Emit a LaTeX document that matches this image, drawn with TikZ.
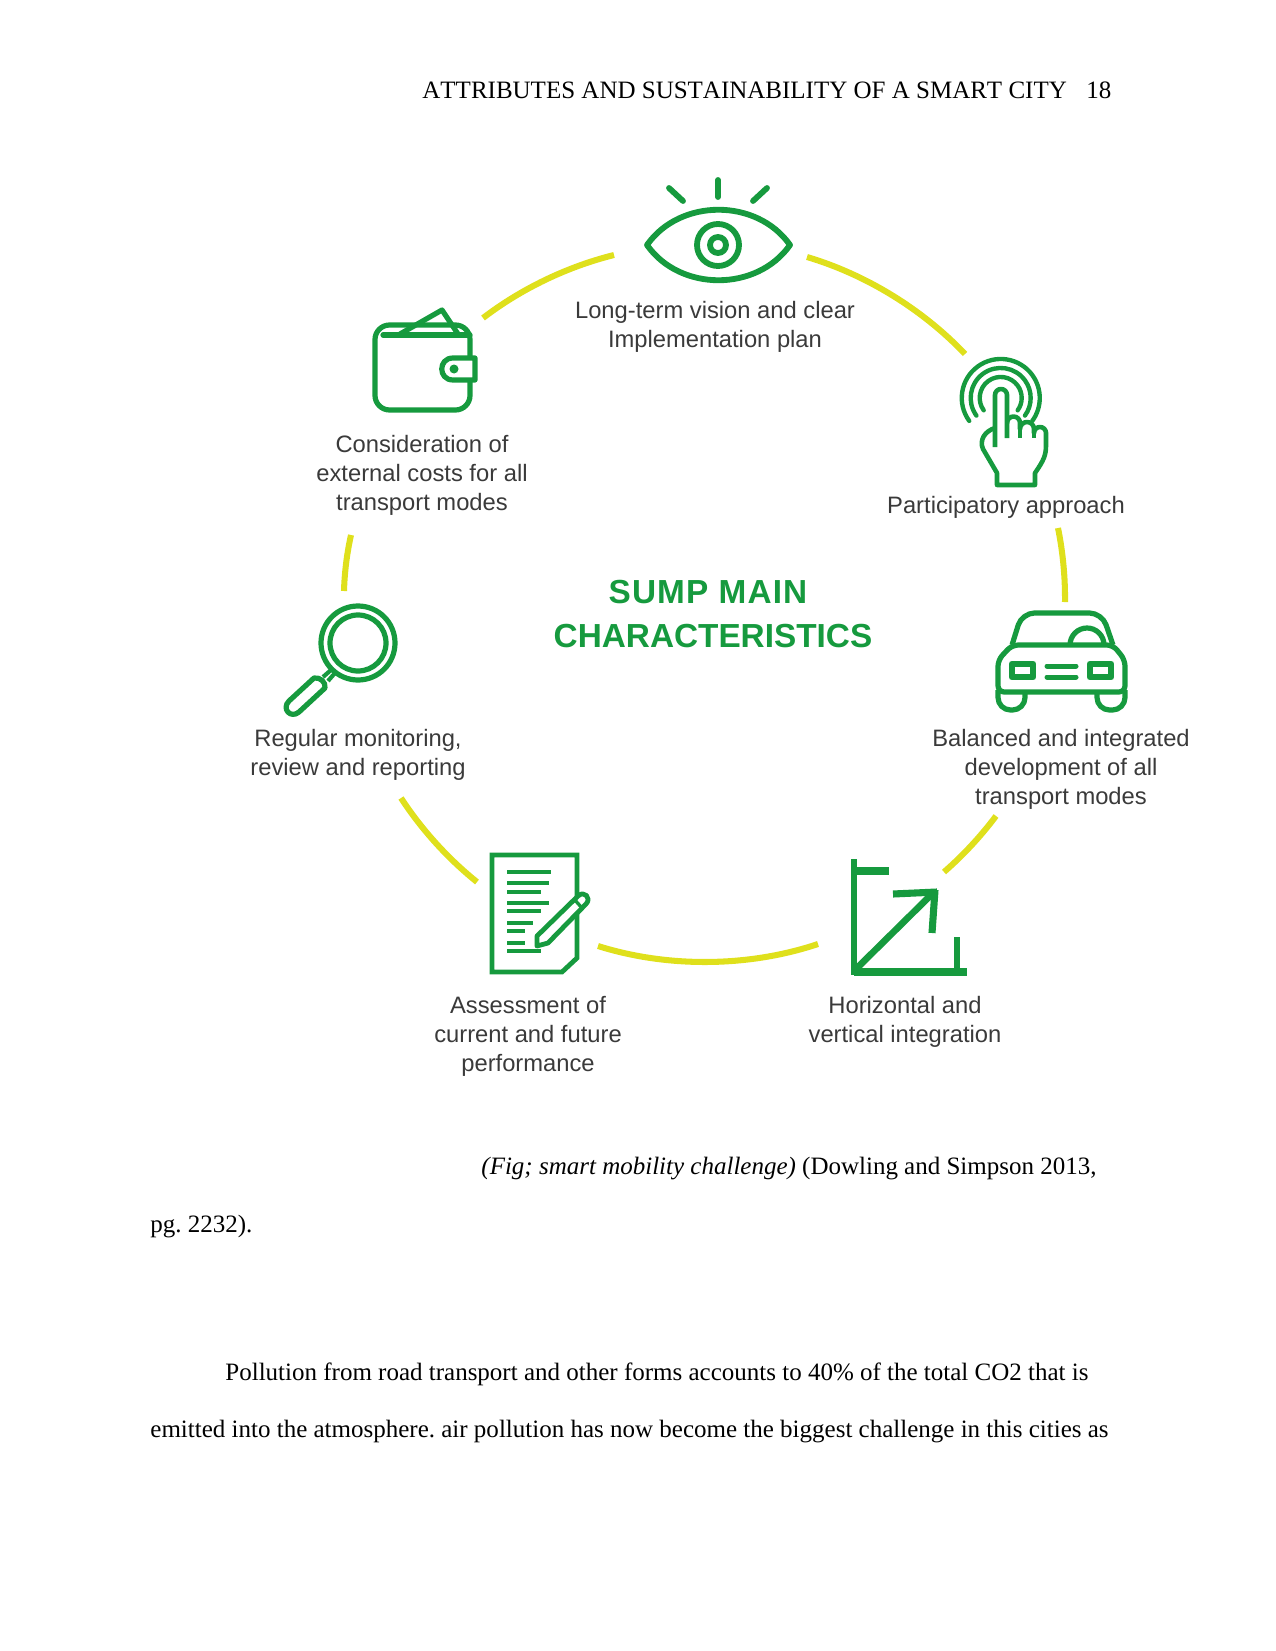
\documentclass[tikz,border=0pt]{standalone}
\usepackage{fontspec}
\setmainfont{Liberation Serif}
\newfontfamily\labelfont{Liberation Sans}
\newfontfamily\headfont[Kerning=Off]{Liberation Serif}
\definecolor{sumpgreen}{HTML}{169A3E}
\definecolor{sumpyellow}{HTML}{DFE01C}
\definecolor{labelgray}{HTML}{3A3A3A}
\tikzset{
  icon/.style = {draw=sumpgreen, line width=2.5pt, line join=round},
  iconbar/.style = {icon, line width=2pt},
  ringarc/.style = {draw=sumpyellow, line width=2.9pt},
  sumplabel/.style = {font=\labelfont\fontsize{11.4}{13.9}\selectfont, text=labelgray, align=center, inner sep=0},
  sumptitle/.style = {font=\labelfont\bfseries\fontsize{16}{20.7}\selectfont, text=sumpgreen, align=center, inner sep=0},
  pagetext/.style = {font=\fontsize{12}{14}\selectfont\frenchspacing, anchor=base west, inner sep=0}
}

\begin{document}
\begin{tikzpicture}[x=0.48pt, y=-0.48pt]
  \useasboundingbox (0,0) rectangle (1275,1651);

  % page text
  \path (422,99) node (runninghead) [pagetext] {\headfont ATTRIBUTES AND SUSTAINABILITY OF A SMART CITY};
  \path (1086,99) node (pagenumber) [pagetext] {18};
  \path (481,1174) node (figcaption) [pagetext] {\textit{(Fig; smart mobility challenge)} (Dowling and Simpson 2013,};
  \path (150,1232) node (figsource) [pagetext] {pg. 2232).};
  \path (225,1380) node (bodyone) [pagetext] {Pollution from road transport and other forms accounts to 40\% of the total CO2 that is};
  \path (150,1437) node (bodytwo) [pagetext] {emitted into the atmosphere. air pollution has now become the biggest challenge in this cities as};

  % ring pieces between the icons
  \coordinate (walleteye) at (483,318);
  \coordinate (eyewallet) at (614,255);
  \coordinate (eyehand) at (807,257);
  \coordinate (handeye) at (965,354);
  \coordinate (handcar) at (1058,528);
  \coordinate (carhand) at (1065,602);
  \coordinate (carmatrix) at (996,816);
  \coordinate (matrixcar) at (944,872);
  \coordinate (matrixdoc) at (818,944);
  \coordinate (docmatrix) at (598,946);
  \coordinate (doclens) at (477,882);
  \coordinate (lensdoc) at (401,798);
  \coordinate (lenswallet) at (344,591);
  \coordinate (walletlens) at (351,535);
  \draw [ringarc] (walleteye) to [bend left=11.7, looseness=0.85] (eyewallet);
  \draw [ringarc] (eyehand) to [bend left=15, looseness=0.85] (handeye);
  \draw [ringarc] (handcar) to [bend left=6, looseness=0.85] (carhand);
  \draw [ringarc] (carmatrix) to [bend left=6, looseness=0.85] (matrixcar);
  \draw [ringarc] (matrixdoc) to [bend left=18, looseness=0.85] (docmatrix);
  \draw [ringarc] (doclens) to [bend left=9, looseness=0.85] (lensdoc);
  \draw [ringarc] (lenswallet) to [bend left=5.5, looseness=0.85] (walletlens);

  % eye
  \draw [icon, line width=2.8pt] (647,245) .. controls (680,198) and (757,198) .. (790,245) .. controls (757,292) and (680,292) .. cycle;
  \draw [icon, line width=2.8pt] (718,245) circle (21);
  \draw [icon, line width=2.8pt] (718,245) circle (8);
  \draw [icon, line cap=round, line width=2.8pt] (718,180) -- (718,197);
  \draw [icon, line cap=round, line width=2.8pt] (669,188) -- (683,201);
  \draw [icon, line cap=round, line width=2.8pt] (767,188) -- (753,201);

  % wallet
  \draw [icon] (400,334) -- (442,310) -- (458,334);
  \draw [icon, rounded corners=7] (375,360) -- (375,410) -- (470,410) -- (470,325) -- (375,325) -- cycle;
  \draw [icon, line cap=round] (383,335) -- (470,335);
  \draw [icon, fill=white] (475,358) -- (453,358) .. controls (438,358) and (438,380) .. (453,380) -- (475,380) -- cycle;
  \fill [sumpgreen] (454,369) circle (4.5);

  % hand with touch rings
  \draw [icon, line cap=round, line width=2.1pt] (969.2,420.9) arc [start angle=144, end angle=396, radius=39];
  \draw [icon, line cap=round, line width=2.1pt] (976.4,415.6) arc [start angle=144, end angle=396, radius=30];
  \draw [icon, line cap=round, line width=2.1pt] (983.7,410.3) arc [start angle=144, end angle=396, radius=21];
  \draw [icon, fill=white, line width=2.2pt] (995,428) .. controls (985,431) and (979,440) .. (983,449) -- (997,473) -- (997,485) -- (1035,485) -- (1035,473) .. controls (1044,460) and (1046,455) .. (1046,445) -- (1046,433) arc [start angle=360, end angle=180, radius=6] -- (1034,429) arc [start angle=360, end angle=180, radius=7] -- (1020,423) arc [start angle=360, end angle=180, radius=6.5] -- cycle;
  \draw [icon, fill=white, line width=2.2pt] (995,447) -- (995,395) arc [start angle=180, end angle=360, radius=6] -- (1007,438);
  \draw [icon, line width=2.2pt] (1020,423) -- (1020,438);
  \draw [icon, line width=2.2pt] (1034,429) -- (1034,438);

  % car
  \draw [icon, rounded corners=6] (1012,645) -- (1022,613) -- (1102,613) -- (1113,645);
  \draw [icon] (1070,645) arc [start angle=180, end angle=360, radius=17];
  \draw [icon, fill=white, rounded corners=3] (998,692) -- (998,660) -- (1012,645) -- (1113,645) -- (1125,660) -- (1125,692) -- cycle;
  \draw [icon, rounded corners=6] (998,690) -- (998,710) -- (1025,710) -- (1025,692);
  \draw [icon, rounded corners=6] (1097,692) -- (1097,710) -- (1125,710) -- (1125,690);
  \draw [icon, line width=3.2pt] (1012,664) rectangle (1033,677);
  \draw [icon, line width=3.2pt] (1090,664) rectangle (1111,677);
  \draw [iconbar, line cap=round, line width=2.4pt] (1047,666) -- (1076,666);
  \draw [iconbar, line cap=round, line width=2.4pt] (1047,677) -- (1076,677);

  % magnifier
  \draw [icon] (358,643) circle (37);
  \draw [icon] (358,643) circle (28);
  \draw [icon, line width=2pt] (323,677) -- (331,670);
  \draw [icon, line width=2pt] (328,681) -- (335,673);
  \draw [icon] (314,678) -- (289,701) .. controls (281,709) and (291,719) .. (299,712) -- (325,688) .. controls (326,682) and (320,677) .. cycle;

  % document with pencil
  \draw [icon, line join=miter, line width=2.3pt] (492,855) -- (577,855) -- (577,958) -- (562,972) -- (492,972) -- cycle;
  \foreach \y/\xend in {872/551, 883/549, 892/541, 903/549, 911/541, 923/533, 931/525, 943/525, 951/541}
    \draw [iconbar] (507,\y) -- (\xend,\y);
  \draw [icon, fill=white, line width=2.3pt] (537,936) -- (578,896) .. controls (584,890) and (592,898) .. (586,904) -- (548,943) -- (537,946) -- cycle;
  \draw [icon, line width=1.6pt] (574,899) -- (582,908);

  % integration frame and arrow
  \draw [draw=sumpgreen, line width=3.2pt] (854,859) -- (854,975);
  \draw [draw=sumpgreen, line width=3.4pt] (854,871) -- (889,871);
  \draw [draw=sumpgreen, line width=3.4pt] (854,972) -- (967,972);
  \draw [draw=sumpgreen, line width=3.2pt] (957,937) -- (957,972);
  \draw [draw=sumpgreen, line width=3.2pt] (857,968) -- (933,893);
  \draw [draw=sumpgreen, line width=3.4pt] (893,894) -- (937,892);
  \draw [draw=sumpgreen, line width=3.4pt] (932,933) -- (935,890);

  % labels
  \path (715,327) node (visionlabel) [sumplabel] {Long-term vision and clear\\Implementation plan};
  \path (422,475) node (costlabel) [sumplabel] {Consideration of\\external costs for all\\transport modes};
  \path (1006,507) node (participlabel) [sumplabel] {Participatory approach};
  \path (1061,769) node (balancelabel) [sumplabel] {Balanced and integrated\\development of all\\transport modes};
  \path (358,755) node (monitorlabel) [sumplabel] {Regular monitoring,\\review and reporting};
  \path (528,1036) node (assesslabel) [sumplabel] {Assessment of\\current and future\\performance};
  \path (905,1022) node (integrlabel) [sumplabel] {Horizontal and\\vertical integration};
  \path (713,614) node (hub) [sumptitle] {{\addfontfeatures{LetterSpace=3.4}SUMP MAIN}\hspace*{4.8pt}\\CHARACTERISTICS};
\end{tikzpicture}
\end{document}
